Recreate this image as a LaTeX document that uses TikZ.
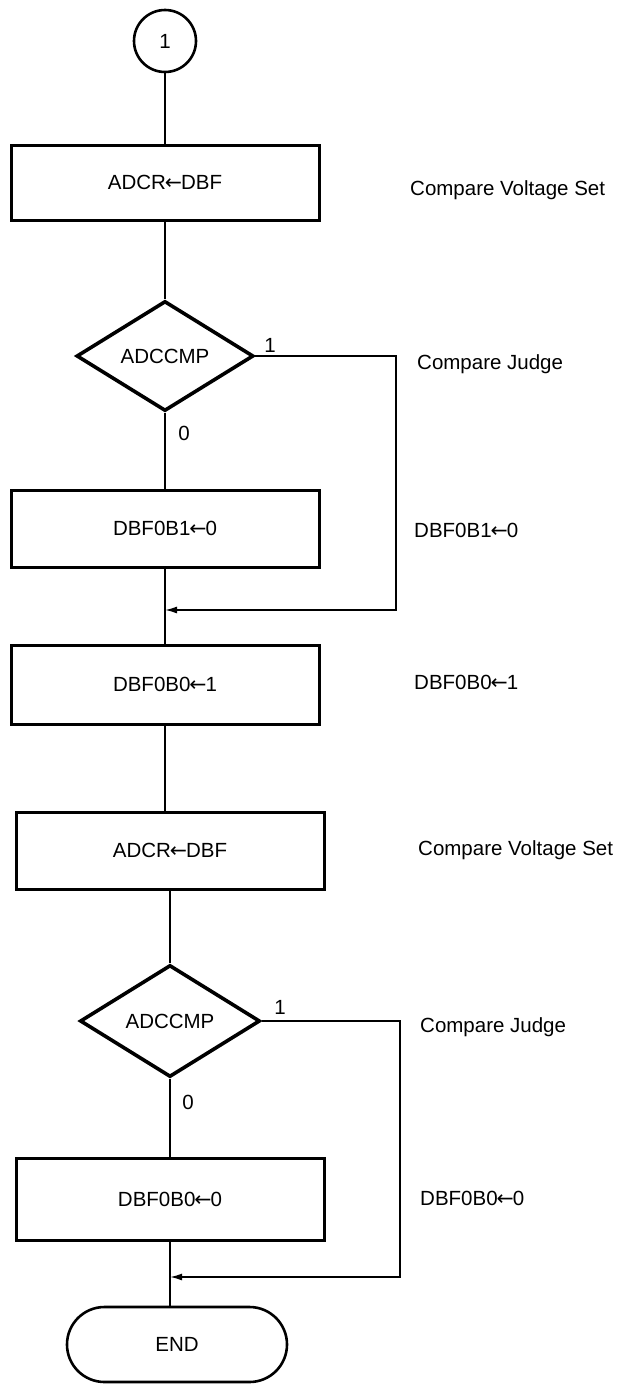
\documentclass[tikz,border=0pt]{standalone}
\usepackage{fontspec}
\setmainfont{Liberation Sans}
\newfontfamily\arrfont{DejaVu Sans}
\newcommand{\la}{{\arrfont\kern-0.05em←\kern-0.05em}}
\usetikzlibrary{shapes.geometric,shapes.misc,arrows.meta}
\begin{document}
\begin{tikzpicture}[x=1pt,y=-1pt,
  every node/.style={font=\fontsize{20.5}{24}\selectfont, inner sep=0pt},
  box/.style={draw, line width=3pt, minimum width=308pt},
  dec/.style={draw, diamond, line width=3.6pt},
  term/.style={draw, line width=2.6pt},
  conn/.style={line width=1.6pt},
  lbl/.style={anchor=base west},
  tip/.style={-{Latex[length=12pt,width=7pt]}}
]
\useasboundingbox (0,0) rectangle (619,1384);

% main column
\node[term, circle, minimum size=62pt] (c1) at (165,41) {1};
\node[box, minimum height=75pt] (b1) at (165,182.5) {ADCR\la DBF};
\node[dec, minimum width=177pt, minimum height=110pt] (d1) at (165,356) {ADCCMP};
\node[box, minimum height=77pt] (b2) at (165,528.5) {DBF0B1\la 0};
\node[box, minimum height=79pt] (b3) at (165,684.5) {DBF0B0\la 1};
\node[box, minimum height=77pt] (b4) at (170,850.5) {ADCR\la DBF};
\node[dec, minimum width=180pt, minimum height=112pt] (d2) at (170,1021) {ADCCMP};
\node[box, minimum height=82pt] (b5) at (170,1199) {DBF0B0\la 0};
\node[term, rounded rectangle, minimum width=220pt, minimum height=75pt] (end) at (177,1344.5) {END};

% branch labels
\node (l1) at (270,345) {1};
\node (z1) at (184,433) {0};
\node (l2) at (280,1007) {1};
\node (z2) at (188,1102) {0};

% comments on the right
\node[lbl] (t1) at (410,195) {Compare Voltage Set};
\node[lbl] (t2) at (417,369) {Compare Judge};
\node[lbl] (t3) at (414,537) {DBF0B1\la 0};
\node[lbl] (t4) at (414,689) {DBF0B0\la 1};
\node[lbl] (t5) at (418,855) {Compare Voltage Set};
\node[lbl] (t6) at (420,1032) {Compare Judge};
\node[lbl] (t7) at (420,1205) {DBF0B0\la 0};

% connectors
\draw[conn] (c1.south) -- (c1.south |- b1.north);
\draw[conn] (b1.south) -- (d1.north);
\draw[conn] (d1.south) -- (b2.north);
\draw[conn] (b2.south) -- (b3.north);
\draw[conn] (b3.south) -- (b3.south |- b4.north);
\draw[conn] (b4.south) -- (d2.north);
\draw[conn] (d2.south) -- (b5.north);
\draw[conn] (b5.south) -- (b5.south |- end.north);

\coordinate (r1) at (396,356);
\coordinate (m1) at (165,610);
\draw[conn, tip] (d1.east) -- (d1.east -| r1) -- (r1 |- m1) -- (m1);

\coordinate (r2) at (400,1021);
\coordinate (m2) at (170,1277);
\draw[conn, tip] (d2.east) -- (d2.east -| r2) -- (r2 |- m2) -- (m2);
\end{tikzpicture}
\end{document}
